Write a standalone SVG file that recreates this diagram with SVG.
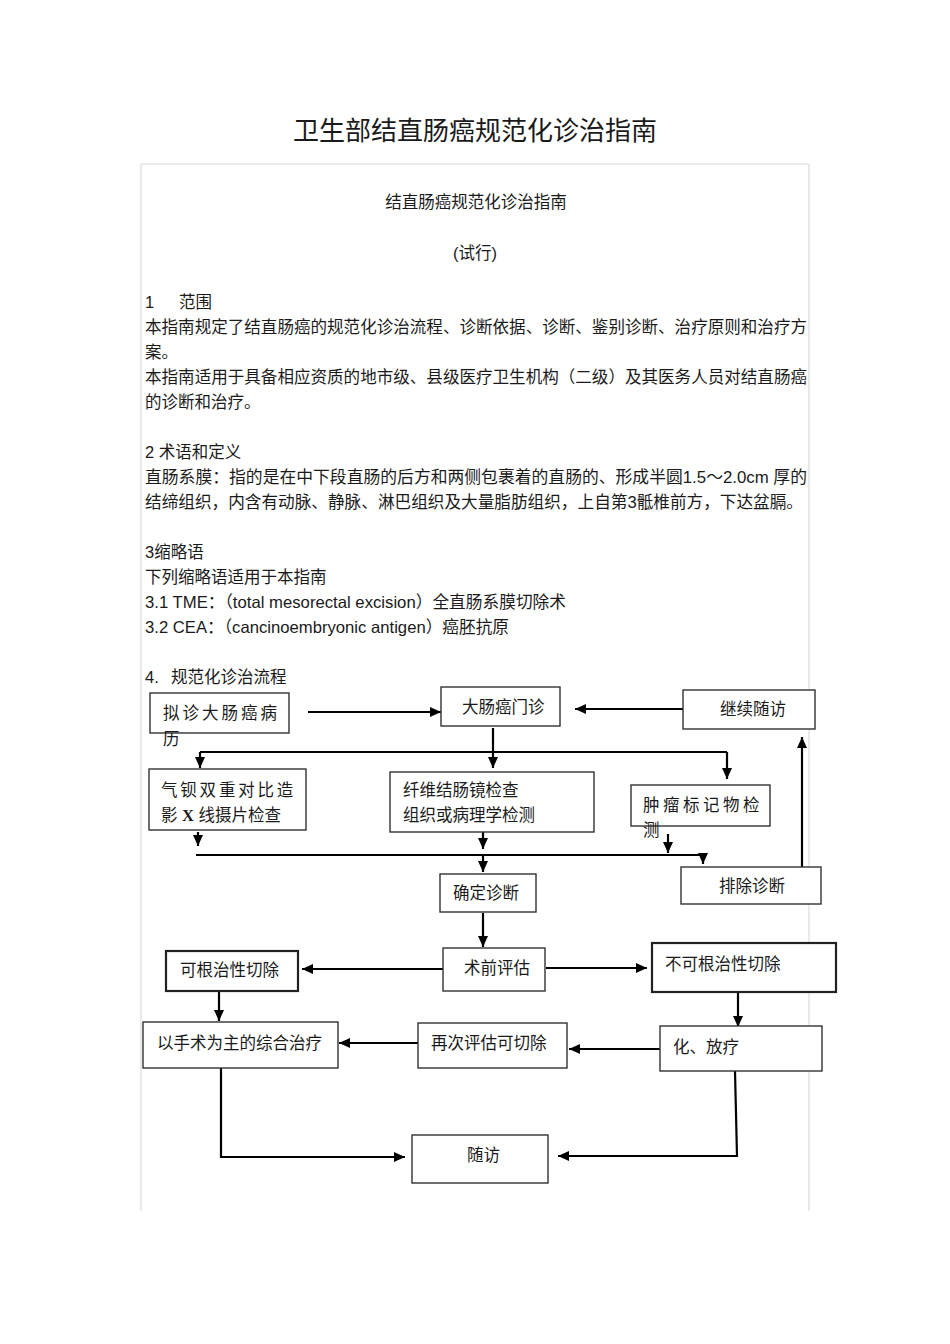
<svg xmlns="http://www.w3.org/2000/svg" width="950" height="1344" viewBox="0 0 950 1344">
<style>
text{font-family:"Liberation Sans","Noto Sans CJK SC",sans-serif;fill:#1a1a1a;dominant-baseline:central}
.body{font-size:16.5px}
.bx{font-size:16.5px}
.node rect{fill:#fff;stroke:#333;stroke-width:1.4}
.node rect.thick{stroke:#222;stroke-width:2.2}
.conn path{fill:none;stroke:#000;stroke-width:2.2}
.frame{stroke:#dcdcdc;stroke-width:1.2;fill:none}
</style>
<defs>
<marker id="ah" markerUnits="userSpaceOnUse" markerWidth="12" markerHeight="10" refX="11" refY="5" orient="auto">
<path d="M0,0 L11,5 L0,10 Z" fill="#000"/>
</marker>
</defs>
<rect width="950" height="1344" fill="#fff"/>
<g id="frame">
<path class="frame" d="M141,164 H809"/>
<path class="frame" d="M141,164 V1211"/>
<path class="frame" d="M809,164 V1211" stroke="#c8c8c8"/>
</g>
<g id="header">
<text x="475" y="131" text-anchor="middle" style="font-size:26px">卫生部结直肠癌规范化诊治指南</text>
<text x="476" y="202" text-anchor="middle" style="font-size:16.5px">结直肠癌规范化诊治指南</text>
<text x="475" y="253" text-anchor="middle" style="font-size:16.5px">(试行)</text>
</g>
<g id="body" class="body">
<text class="body" x="145" y="302">1</text>
<text class="body" x="179" y="302">范围</text>
<text class="body" x="145" y="327" textLength="662" lengthAdjust="spacingAndGlyphs">本指南规定了结直肠癌的规范化诊治流程、诊断依据、诊断、鉴别诊断、治疗原则和治疗方</text>
<text class="body" x="145" y="352">案。</text>
<text class="body" x="145" y="377" textLength="662" lengthAdjust="spacingAndGlyphs">本指南适用于具备相应资质的地市级、县级医疗卫生机构（二级）及其医务人员对结直肠癌</text>
<text class="body" x="145" y="402">的诊断和治疗。</text>
<text class="body" x="145" y="452">2 术语和定义</text>
<text class="body" x="145" y="477" textLength="662" lengthAdjust="spacingAndGlyphs">直肠系膜：指的是在中下段直肠的后方和两侧包裹着的直肠的、形成半圆1.5～2.0cm 厚的</text>
<text class="body" x="145" y="502" textLength="658" lengthAdjust="spacingAndGlyphs">结缔组织，内含有动脉、静脉、淋巴组织及大量脂肪组织，上自第3骶椎前方，下达盆膈。</text>
<text class="body" x="145" y="552">3缩略语</text>
<text class="body" x="145" y="577">下列缩略语适用于本指南</text>
<text class="body" x="145" y="602" textLength="421" lengthAdjust="spacingAndGlyphs">3.1 TME：（total mesorectal excision）全直肠系膜切除术</text>
<text class="body" x="145" y="627" textLength="364" lengthAdjust="spacingAndGlyphs">3.2 CEA：（cancinoembryonic antigen）癌胚抗原</text>
<text class="body" x="145" y="677">4.</text>
<text class="body" x="171" y="677">规范化诊治流程</text>
</g>
<g id="connectors" class="conn">
<path d="M308,712 H441" marker-end="url(#ah)"/>
<path d="M683,709 H575" marker-end="url(#ah)"/>
<path d="M493,728 V768" marker-end="url(#ah)"/>
<path d="M200,752 H727"/>
<path d="M200,752 V768" marker-end="url(#ah)"/>
<path d="M727,752 V779" marker-end="url(#ah)"/>
<path d="M198,832 V846" marker-end="url(#ah)"/>
<path d="M196,855 H703 V864" marker-end="url(#ah)"/>
<path d="M483,832 V849" marker-end="url(#ah)"/>
<path d="M483,855 V872" marker-end="url(#ah)"/>
<path d="M668,834 V853" marker-end="url(#ah)"/>
<path d="M802,867 V737" marker-end="url(#ah)"/>
<path d="M483,913 V947" marker-end="url(#ah)"/>
<path d="M443,969 H302" marker-end="url(#ah)"/>
<path d="M546,968 H647" marker-end="url(#ah)"/>
<path d="M219,992 V1021" marker-end="url(#ah)"/>
<path d="M738,992 V1027" marker-end="url(#ah)"/>
<path d="M418,1043 H339" marker-end="url(#ah)"/>
<path d="M660,1049 H569" marker-end="url(#ah)"/>
<path d="M221,1068 V1157 H405" marker-end="url(#ah)"/>
<path d="M735,1071 L737,1156 H558" marker-end="url(#ah)"/>
</g>
<g id="n-nizhen" class="node">
<rect x="150" y="693" width="139" height="40"/>
<text class="bx" x="163" y="713" letter-spacing="3">拟诊大肠癌病</text>
<text class="bx" x="163" y="739">历</text>
</g>
<g id="n-menzhen" class="node">
<rect x="441" y="687" width="119" height="39"/>
<text class="bx" x="462" y="707">大肠癌门诊</text>
</g>
<g id="n-jixu" class="node">
<rect x="683" y="690" width="132" height="39"/>
<text class="bx" x="720" y="709">继续随访</text>
</g>
<g id="n-qibei" class="node">
<rect x="149" y="769" width="157" height="61"/>
<text class="bx" x="161" y="790" letter-spacing="2.8">气钡双重对比造</text>
<text class="bx" x="161" y="815">影 <tspan font-weight="bold" font-family="Liberation Serif">X</tspan> 线摄片检查</text>
</g>
<g id="n-xianwei" class="node">
<rect x="390" y="772" width="204" height="60"/>
<text class="bx" x="403" y="790">纤维结肠镜检查</text>
<text class="bx" x="403" y="815">组织或病理学检测</text>
</g>
<g id="n-zhongliu" class="node">
<rect x="631" y="785" width="139" height="41"/>
<text class="bx" x="643" y="805" letter-spacing="3.5">肿瘤标记物检</text>
<text class="bx" x="643" y="830">测</text>
</g>
<g id="n-paichu" class="node">
<rect x="681" y="867" width="140" height="37"/>
<text class="bx" x="719" y="886">排除诊断</text>
</g>
<g id="n-queding" class="node">
<rect x="440" y="874" width="96" height="38"/>
<text class="bx" x="453" y="893">确定诊断</text>
</g>
<g id="n-shuqian" class="node">
<rect x="443" y="948" width="102" height="43"/>
<text class="bx" x="464" y="968">术前评估</text>
</g>
<g id="n-kegenzhi" class="node">
<rect class="thick" x="166" y="951" width="132" height="40"/>
<text class="bx" x="180" y="970">可根治性切除</text>
</g>
<g id="n-bukegenzhi" class="node">
<rect class="thick" x="652" y="943" width="184" height="49"/>
<text class="bx" x="665" y="964">不可根治性切除</text>
</g>
<g id="n-shoushu" class="node">
<rect x="143" y="1022" width="195" height="46"/>
<text class="bx" x="157" y="1043">以手术为主的综合治疗</text>
</g>
<g id="n-zaici" class="node">
<rect x="418" y="1023" width="149" height="45"/>
<text class="bx" x="431" y="1043">再次评估可切除</text>
</g>
<g id="n-hualiao" class="node">
<rect x="660" y="1026" width="162" height="45"/>
<text class="bx" x="673" y="1047">化、放疗</text>
</g>
<g id="n-suifang" class="node">
<rect x="412" y="1135" width="136" height="48"/>
<text class="bx" x="467" y="1155">随访</text>
</g>
</svg>
